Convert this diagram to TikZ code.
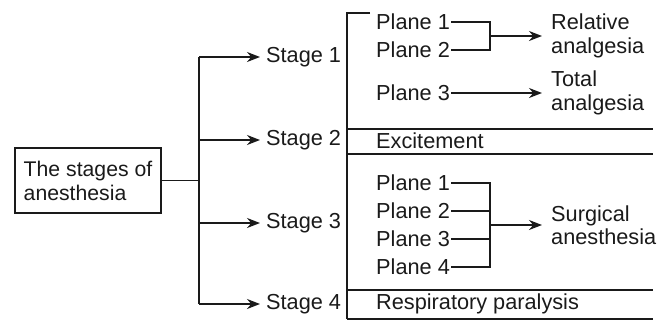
\documentclass[tikz,border=0pt]{standalone}
\usepackage{fontspec}
\setmainfont{Liberation Sans}
\usetikzlibrary{arrows.meta,positioning}
\definecolor{anaInk}{HTML}{1A1A1A}
\newcommand{\anaLineW}{1.6bp}
\newcommand{\anaFont}{\fontsize{21.8}{23.5}\selectfont}
\tikzset{
  stagelabel/.style={anchor=west, inner xsep=3bp, inner ysep=1bp, font=\anaFont, text=anaInk},
  planelabel/.style={anchor=west, inner xsep=1bp, inner ysep=1bp, font=\anaFont, text=anaInk},
  effectlabel/.style={anchor=west, inner xsep=2bp, inner ysep=1bp, align=left, font=\anaFont, text=anaInk},
  flowarrow/.style={anaInk, line width=\anaLineW, -{Stealth[length=13bp,width=10bp]}},
  flowline/.style={anaInk, line width=\anaLineW},
}

\begin{document}
\begin{tikzpicture}[x=1bp, y=-1bp, line join=miter]
  \useasboundingbox (0,0) rectangle (665,322);

  % ===== Root box =====
  \node[draw=anaInk, line width=\anaLineW, font=\fontsize{21.3}{24}\selectfont, text=anaInk,
        align=left, minimum width=146bp, minimum height=65bp] (root) at (88,180.5)
    {The stages of\\anesthesia};

  % ===== Stages =====
  \node[stagelabel] (s1) at (263,57)  {Stage 1};
  \node[stagelabel] (s2) at (263,140) {Stage 2};
  \node[stagelabel] (s3) at (263,223) {Stage 3};
  \node[stagelabel] (s4) at (263,304) {Stage 4};

  \coordinate (trunk) at (199,180.5);
  \draw[flowline] (root.east) -- (trunk);
  \draw[flowline] (trunk |- s1) -- (trunk |- s4);
  \foreach \s in {s1,s2,s3,s4}
    \draw[flowarrow, shorten >=3bp] (trunk |- \s) -- (\s.west);

  % ===== Right panel frame =====
  \draw[flowline] (370,13) -- (347,13) -- (347,319);
  \foreach \y in {129,154,290,319}
    \draw[flowline] (347,\y) -- (653,\y);

  % Stage 1: planes
  \node[planelabel] (a1) at (375,22) {Plane 1};
  \node[planelabel] (a2) at (375,50) {Plane 2};
  \node[planelabel] (a3) at (375,93) {Plane 3};
  \node[effectlabel] (rel) at (549,36) {Relative\\analgesia};
  \node[effectlabel] (tot) at (549,93) {Total\\analgesia};

  \coordinate (ja) at (490,36);
  \draw[flowline] (a1.east) -- (a1.east -| ja) -- (a2.east -| ja) -- (a2.east);
  \draw[flowarrow, shorten >=7bp] (ja) -- (rel.west);
  \draw[flowarrow, shorten >=7bp] (a3.east) -- (tot.west);

  % Stage 2
  \node[planelabel] (exc) at (375,141) {Excitement};

  % Stage 3: planes
  \node[planelabel] (b1) at (375,183) {Plane 1};
  \node[planelabel] (b2) at (375,211) {Plane 2};
  \node[planelabel] (b3) at (375,239) {Plane 3};
  \node[planelabel] (b4) at (375,267) {Plane 4};
  \node[effectlabel] (surg) at (549,225) {Surgical\\anesthesia};

  \coordinate (jb) at (490,225);
  \draw[flowline] (b1.east) -- (b1.east -| jb) -- (b4.east -| jb) -- (b4.east);
  \draw[flowline] (b2.east) -- (b2.east -| jb);
  \draw[flowline] (b3.east) -- (b3.east -| jb);
  \draw[flowarrow, shorten >=7bp] (jb) -- (surg.west);

  % Stage 4
  \node[planelabel] (resp) at (375,304) {Respiratory paralysis};
\end{tikzpicture}
\end{document}
